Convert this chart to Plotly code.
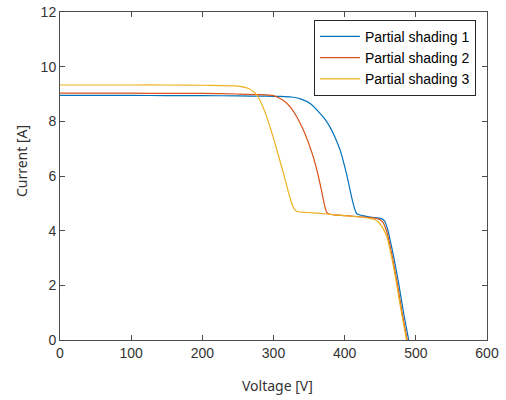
import plotly.graph_objects as go

# Partial shading 1 (blue)
v1 = [0, 50, 100, 150, 200, 250, 290, 310, 325, 338, 352, 366, 373, 380, 387, 394, 400, 405, 410, 414, 417,
      425, 436, 445, 450, 454, 457, 460, 462, 469, 476, 483, 490]
i1 = [8.95, 8.95, 8.95, 8.94, 8.94, 8.93, 8.92, 8.91, 8.89, 8.82, 8.64, 8.27, 8.05, 7.76, 7.38, 6.92, 6.35, 5.80, 5.20, 4.80, 4.62,
      4.55, 4.50, 4.47, 4.45, 4.41, 4.31, 4.08, 3.88, 3.03, 2.05, 0.96, 0.0]

# Partial shading 2 (red)
v2 = [0, 50, 100, 150, 200, 250, 280, 300, 314, 324, 333, 342, 350, 357, 363, 368, 372, 375, 379,
      385, 400, 420, 440, 448, 452, 455, 458, 460, 467, 474, 481, 488]
i2 = [9.03, 9.03, 9.03, 9.02, 9.02, 9.00, 8.98, 8.94, 8.76, 8.51, 8.15, 7.68, 7.15, 6.60, 6.00, 5.40, 4.90, 4.66, 4.60,
      4.58, 4.55, 4.51, 4.47, 4.42, 4.36, 4.25, 4.05, 3.88, 3.03, 2.05, 0.96, 0.0]

# Partial shading 3 (yellow)
v3 = [0, 50, 100, 150, 200, 225, 245, 255, 265, 272, 278, 284, 290, 296, 302, 308, 314, 320, 325, 329, 333,
      340, 355, 375, 400, 420, 435, 443, 448, 453, 459, 466, 473, 480, 487]
i3 = [9.33, 9.33, 9.33, 9.33, 9.32, 9.31, 9.30, 9.27, 9.20, 9.08, 8.90, 8.60, 8.20, 7.72, 7.20, 6.65, 6.10, 5.50, 5.05, 4.80, 4.70,
      4.68, 4.65, 4.61, 4.55, 4.50, 4.45, 4.40, 4.30, 4.12, 3.80, 3.03, 2.05, 0.96, 0.0]

names = ["Partial shading 1", "Partial shading 2", "Partial shading 3"]
colors = ["#0072BD", "#D95319", "#EDB120"]

x_ticks = [0, 100, 200, 300, 400, 500, 600]
y_ticks = [0, 2, 4, 6, 8, 10, 12]

fig = go.Figure()
for v, i, n, c in zip([v1, v2, v3], [i1, i2, i3], names, colors):
    fig.add_trace(go.Scatter(x=v, y=i, mode="lines", name=n,
                             line=dict(color=c, width=1.2, shape="spline", smoothing=0.6)))

axis_common = dict(
    showline=True, linecolor="#4d4d4d", linewidth=1, mirror="ticks", automargin=False,
    ticks="inside", ticklen=5, tickcolor="#4d4d4d", showgrid=False, zeroline=False,
    tickfont=dict(family="Liberation Sans, Arial, sans-serif", size=14, color="#333333"),
)

fig.update_layout(
    width=506, height=400,
    margin=dict(l=60, r=19, t=12, b=60),
    paper_bgcolor="white", plot_bgcolor="white",
    xaxis=dict(range=[0, 600], tickvals=x_ticks, **axis_common),
    yaxis=dict(range=[0, 12], tickvals=y_ticks, **axis_common),
    legend=dict(x=0.974, y=0.976, xanchor="right", yanchor="top",
                bordercolor="#262626", borderwidth=1, bgcolor="white",
                font=dict(family="Liberation Sans, Arial, sans-serif", size=14, color="black"),
                itemwidth=40, tracegroupgap=0),
    showlegend=True,
    annotations=[
        dict(text="Voltage [V]", xref="paper", yref="paper", x=0.509, y=-0.14,
             xanchor="center", yanchor="middle", showarrow=False,
             font=dict(family="Noto Sans, sans-serif", size=14, color="#333333")),
        dict(text="Current [A]", xref="paper", yref="paper", x=-0.0885, y=0.546,
             xanchor="center", yanchor="middle", showarrow=False, textangle=-90,
             font=dict(family="Noto Sans, sans-serif", size=14, color="#333333")),
    ],
)

fig.write_html("out.html", config={"displayModeBar": False},
               post_script="document.body.style.margin='0';document.body.style.overflow='hidden';")
